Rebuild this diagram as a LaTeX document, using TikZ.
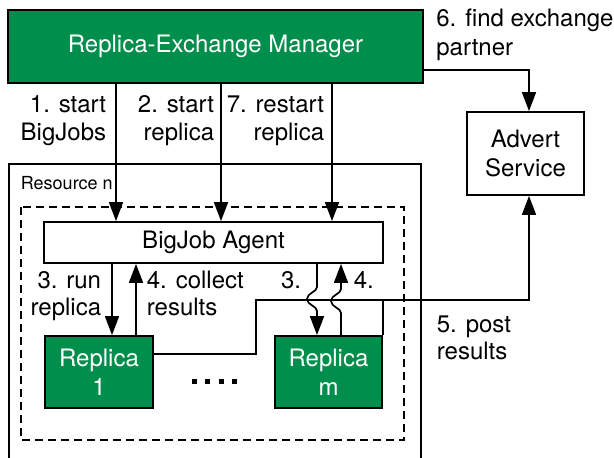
\documentclass[tikz,border=0pt]{standalone}
\usepackage{fontspec}
\setmainfont{TeX Gyre Heros}
\usetikzlibrary{arrows.meta}
\definecolor{mgrgreen}{RGB}{0,142,76}
\tikzset{
  every picture/.style={line width=1.8pt},
  box/.style={draw=black, line width=1.8pt, inner sep=0pt, align=center,
    font=\fontsize{24pt}{28.5pt}\selectfont},
  greenbox/.style={box, fill=mgrgreen, text=white},
  whitebox/.style={box, fill=white},
  arr/.style={-{Triangle[width=14pt,length=19pt]}, line width=1.7pt},
  conn/.style={line width=1.7pt},
  lbl/.style={inner sep=0pt, font=\fontsize{24pt}{28.5pt}\selectfont},
  small/.style={inner sep=0pt, font=\fontsize{18pt}{22pt}\selectfont},
  dashbox/.style={draw, dash pattern=on 8pt off 5pt, line width=1.6pt},
}
\begin{document}
\begin{tikzpicture}[x=1pt,y=-1pt]
\useasboundingbox (0,0) rectangle (614,458);
\clip (0,0) rectangle (614,458);

% resource frame (runs past the lower edge) and the BigJob container
\draw[line width=1.7pt] (9,470) -- (9,164) -- (421,164) -- (421,470);
\node[small, anchor=base west] (resn) at (20,189) {Resource n};
\draw[dashbox] (21,207) rectangle (404,440);

% boxes
\node[greenbox, minimum width=415pt, minimum height=73pt] (mgr) at (215.5,46.5) {Replica-Exchange Manager};
\node[whitebox, minimum width=117pt, minimum height=83pt] (advert) at (525.5,153.5) {Advert\\Service};
\node[whitebox, minimum width=339pt, minimum height=41pt] (agent) at (213.5,242.5) {BigJob Agent};
\node[greenbox, minimum width=108pt, minimum height=72pt] (rep1) at (99,372) {Replica\\1};
\node[greenbox, minimum width=107pt, minimum height=72pt] (repm) at (328.5,372) {Replica\\m};

% dots between the replicas
\foreach \dx in {192,205,218.5,232}
  \fill (\dx,379) rectangle ++(5,5);

% x positions of the connectors
\coordinate (m1) at (116,0);
\coordinate (m2) at (221,0);
\coordinate (m7) at (332,0);
\coordinate (a3) at (112,0);
\coordinate (a4) at (136,0);
\coordinate (b3) at (317,0);
\coordinate (b4) at (341,0);
\coordinate (ax) at (529,0);
\coordinate (jog) at (256,300);

% manager -> agent
\draw[arr] (mgr.south -| m1) -- (agent.north -| m1);
\draw[arr] (mgr.south -| m2) -- (agent.north -| m2);
\draw[arr] (mgr.south -| m7) -- (agent.north -| m7);
\node[lbl, anchor=base east] (l1a) at (107,112) {1. start};
\node[lbl, anchor=base east] (l1b) at (107,140) {BigJobs};
\node[lbl, anchor=base east] (l2a) at (215,112) {2. start};
\node[lbl, anchor=base east] (l2b) at (215,140) {replica};
\node[lbl, anchor=base east] (l7a) at (325,112) {7. restart};
\node[lbl, anchor=base east] (l7b) at (325,140) {replica};

% manager -> advert service
\draw[arr] ([yshift=-23.5pt]mgr.east) -| (advert.north -| ax);
\node[lbl, anchor=base west] (l6a) at (435.5,26) {6. find exchange};
\node[lbl, anchor=base west] (l6b) at (435.5,55) {partner};

% agent <-> replica 1
\draw[arr] (agent.south -| a3) -- (rep1.north -| a3);
\draw[arr] (rep1.north -| a4) -- (agent.south -| a4);
\node[lbl, anchor=base east] (l3a) at (102,288) {3. run};
\node[lbl, anchor=base east] (l3b) at (102,315) {replica};
\node[lbl, anchor=base west] (l4a) at (146,288) {4. collect};
\node[lbl, anchor=base west] (l4b) at (146,315) {results};

% agent <-> replica m, hopping over the results line
\draw[arr] (agent.south -| b3) -- (317,287)
  .. controls (317,292) and (307,293) .. (307,299)
  .. controls (307,305) and (317,306) .. (317,311) -- (repm.north -| b3);
\draw[arr] (repm.north -| b4) -- (341,313)
  .. controls (341,308) and (331,307) .. (331,301)
  .. controls (331,295) and (341,294) .. (341,289) -- (agent.south -| b4);
\node[lbl, anchor=base east] (l3m) at (302,288) {3.};
\node[lbl, anchor=base west] (l4m) at (353,288) {4.};

% replicas -> advert service
\draw[arr] ([yshift=18pt]rep1.east) -| (jog) -- (jog -| ax) -- (advert.south -| ax);
\draw[conn] (repm.north east) -- (repm.north east |- jog);
\node[lbl, anchor=base west] (l5a) at (436,332) {5. post};
\node[lbl, anchor=base west] (l5b) at (436,359) {results};
\end{tikzpicture}
\end{document}
